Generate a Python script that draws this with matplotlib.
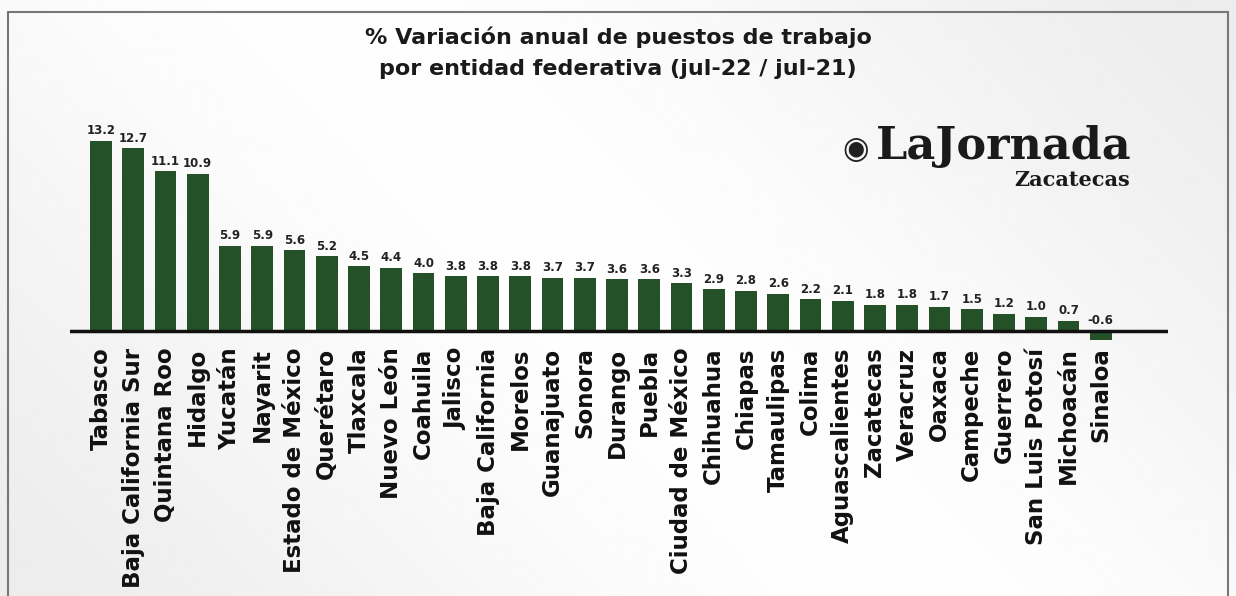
import matplotlib.pyplot as plt
import numpy as np
from matplotlib.patches import Rectangle

# Data
states = ["Tabasco", "Baja California Sur", "Quintana Roo", "Hidalgo", "Yucatán",
          "Nayarit", "Estado de México", "Querétaro", "Tlaxcala", "Nuevo León",
          "Coahuila", "Jalisco", "Baja California", "Morelos", "Guanajuato",
          "Sonora", "Durango", "Puebla", "Ciudad de México", "Chihuahua",
          "Chiapas", "Tamaulipas", "Colima", "Aguascalientes", "Zacatecas",
          "Veracruz", "Oaxaca", "Campeche", "Guerrero", "San Luis Potosí",
          "Michoacán", "Sinaloa"]
variation = [13.2, 12.7, 11.1, 10.9, 5.9, 5.9, 5.6, 5.2, 4.5, 4.4,
             4.0, 3.8, 3.8, 3.8, 3.7, 3.7, 3.6, 3.6, 3.3, 2.9,
             2.8, 2.6, 2.2, 2.1, 1.8, 1.8, 1.7, 1.5, 1.2, 1.0,
             0.7, -0.6]

W, H = 1236, 596
fig = plt.figure(figsize=(W / 100, H / 100), dpi=100)

# background gradient
bg = fig.add_axes([0, 0, 1, 1], zorder=-10)
yy, xx = np.mgrid[0:1:200j, 0:1:400j]
grad = 0.5 + 0.5 * np.cos((xx * 1.3 - (1 - yy) * 0.6 - 0.35) * 3.0)
grad = 0.925 + 0.07 * grad
bg.imshow(grad, cmap="gray", vmin=0, vmax=1, extent=[0, 1, 0, 1],
          aspect="auto", origin="lower")
bg.set_xlim(0, 1)
bg.set_ylim(0, 1)
bg.axis("off")
bg.add_patch(Rectangle((8 / W, -0.05), (1228 - 8) / W, 1.05 - 12 / H,
                       fill=False, edgecolor="#777777", linewidth=1.5))

# main axis: baseline at y=331px, 14.4 px per unit
x0, x1 = 70 / W, 1168 / W
ymin, ymax = -1.0, 15.0
ppu = 14.4
bottom_px = 331 + (0 - ymin) * ppu
top_px = 331 - ymax * ppu
ax = fig.add_axes([x0, (H - bottom_px) / H, x1 - x0, (bottom_px - top_px) / H])
ax.patch.set_alpha(0)

x = np.arange(len(states))
# first bar centred near px 101, spacing about 32 px
left_lim = -(101 - 70) / 32.25
right_lim = left_lim + (1168 - 70) / 32.25
ax.bar(x, variation, width=0.68, color="#245128", zorder=2)
ax.axhline(0, color="#111111", linewidth=2.5, zorder=3)
ax.set_xlim(left_lim, right_lim)
ax.set_ylim(ymin, ymax)
for s in ax.spines.values():
    s.set_visible(False)
ax.set_xticks([])
ax.set_yticks([])

for xi, v in zip(x, variation):
    ax.text(xi, max(v, 0) + 0.25, "{:.1f}".format(v), ha="center", va="bottom",
            fontsize=8.5, color="#222222", fontweight="semibold")

for xi, name in zip(x, states):
    ax.text(xi, ymin - 0.15, name, rotation=90, ha="center", va="top",
            fontsize=16.5, fontweight="bold", color="#111111")

# title
fig.text(0.5, 1 - 37 / H, "% Variación anual de puestos de trabajo",
         ha="center", va="center", fontsize=16, fontweight="bold", color="#1a1a1a")
fig.text(0.5, 1 - 69 / H, "por entidad federativa (jul-22 / jul-21)",
         ha="center", va="center", fontsize=16, fontweight="bold", color="#1a1a1a")

# logo
fig.text(856 / W, 1 - 150 / H, "◉", ha="center", va="center", fontsize=22,
         color="#222222")
fig.text(1132 / W, 1 - 146 / H, "LaJornada", ha="right", va="center",
         fontsize=32, fontweight="bold", family="DejaVu Serif", color="#1a1a1a")
fig.text(1130 / W, 1 - 180 / H, "Zacatecas", ha="right", va="center",
         fontsize=15, fontweight="bold", family="DejaVu Serif", color="#1a1a1a")

fig.savefig("out.png", dpi=100)
